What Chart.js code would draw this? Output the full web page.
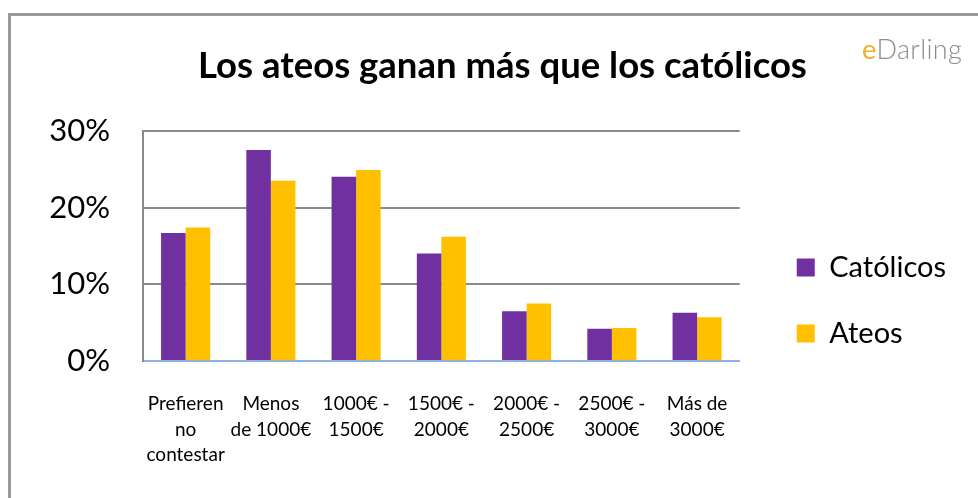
<!DOCTYPE html>
<html>
<head>
<meta charset="utf-8">
<script src="https://cdn.jsdelivr.net/npm/chart.js@4.4.1/dist/chart.umd.min.js"></script>
<style>
  html, body { margin: 0; padding: 0; background: #fff; }
  #wrap { position: relative; width: 978px; height: 498px; overflow: hidden; }
  #frame { position: absolute; left: 8px; top: 13px; width: 1000px; height: 600px;
           border-left: 3px solid #9a9a9a; border-top: 3px solid #9a9a9a; box-sizing: border-box; }
  #logo { position: absolute; left: 862px; top: 32px; font-family: Lato, "Open Sans", sans-serif;
          font-weight: 300; font-size: 27px; color: #8c8c8c; letter-spacing: 0.3px; }
  #logo .e { color: #f0ae2a; font-weight: 400; }
  canvas { position: absolute; left: 0; top: 0; }
</style>
</head>
<body>
<div id="wrap">
  <div id="frame"></div>
  <canvas id="c" width="978" height="498"></canvas>
  <div id="logo"><span class="e">e</span>Darling</div>
</div>
<script>
const categories = [
  ["Prefieren", "no", "contestar"],
  ["Menos", "de 1000€"],
  ["1000€ -", "1500€"],
  ["1500€ -", "2000€"],
  ["2000€ -", "2500€"],
  ["2500€ -", "3000€"],
  ["Más de", "3000€"]
];
const catolicos = [0.167, 0.275, 0.240, 0.140, 0.065, 0.042, 0.063];
const ateos     = [0.174, 0.235, 0.249, 0.162, 0.075, 0.043, 0.057];
const yTicks = [0, 0.1, 0.2, 0.3];
const seriesNames = ["Católicos", "Ateos"];
const titleText = "Los ateos ganan más que los católicos";

const FONT = "Lato, 'Open Sans', sans-serif";

const blockShift = {
  id: 'blockShift',
  afterLayout(chart) {
    const l = chart.legend;
    if (l) {
      const dx = 20, newTop = 216, h = l.bottom - l.top;
      l.left += dx; l.right += dx;
      l.top = newTop; l.bottom = newTop + h;
    }
    const t = chart.titleBlock;
    if (t) { t.left += 27; t.right += 27; }
  }
};

new Chart(document.getElementById('c'), {
  type: 'bar',
  data: {
    labels: categories,
    datasets: [
      { label: seriesNames[0], data: catolicos, backgroundColor: '#7030A0', borderWidth: 0 },
      { label: seriesNames[1], data: ateos, backgroundColor: '#FFC000', borderWidth: 0 }
    ]
  },
  options: {
    responsive: false,
    animation: false,
    devicePixelRatio: 1,
    layout: { padding: { left: 15, right: 42, top: 20, bottom: 0 } },
    datasets: { bar: { categoryPercentage: 0.576, barPercentage: 1.0 } },
    plugins: {
      title: {
        display: true, text: titleText, color: '#000',
        font: { family: FONT, size: 36.5, weight: 'bold' },
        padding: { top: 24, bottom: 43 }
      },
      legend: {
        position: 'right', align: 'start',
        labels: {
          color: '#000', boxWidth: 18, boxHeight: 18, padding: 37,
          font: { family: FONT, size: 29, lineHeight: 1.0 }
        }
      },
      tooltip: { enabled: false }
    },
    scales: {
      x: {
        grid: { display: false, drawTicks: false },
        border: { display: true, color: '#8db3e2', width: 2 },
        ticks: { color: '#000', font: { family: FONT, size: 19, lineHeight: 1.35 }, padding: 30, maxRotation: 0, autoSkip: false }
      },
      y: {
        min: 0, max: 0.3,
        afterFit(scale) { scale.width = 128; },
        afterBuildTicks(scale) { scale.ticks = yTicks.map(v => ({ value: v })); },
        grid: { color: ctx => ctx.tick && ctx.tick.value === 0 ? 'rgba(0,0,0,0)' : '#8a8a8a', lineWidth: 2, drawTicks: false },
        border: { display: true, color: '#8a8a8a', width: 2 },
        ticks: { color: '#000', font: { family: FONT, size: 31 }, padding: 33,
                 callback: v => Math.round(v * 100) + '%' }
      }
    }
  },
  plugins: [blockShift]
});
</script>
</body>
</html>
